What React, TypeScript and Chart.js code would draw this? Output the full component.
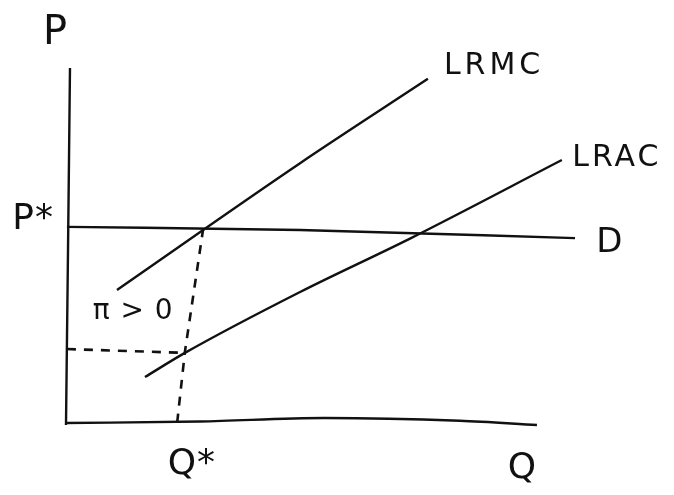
import React, { useEffect, useRef } from "react";
import { Chart, registerables } from "chart.js";

Chart.register(...registerables);

// Quantity (Q) and price (P) in arbitrary units; origin at the axes' corner.
const qAxisQ = [-0.2, 28.5, 55, 83.8, 100.2];
const qAxisP = [0.57, 1, 2, 1.2, 0];

const pAxisQ = [0, 0.43, 0.85];
const pAxisP = [0, 50, 102];

const demandQ = [0.2, 49.8, 108.3];
const demandP = [56.6, 55.7, 53.4];

const lrmcQ = [10.85, 49.8, 77];
const lrmcP = [38.6, 74.8, 98.9];

const lracQ = [16.8, 25.3, 49.8, 73.4, 105.5];
const lracP = [13.7, 20.6, 38, 53.4, 75.7];

// Dashed guides: from the LRMC = D point down through LRAC to Q*, and across to the price axis
const qStarGuideQ = [29.2, 25.3, 23.6];
const qStarGuideP = [56.2, 20.9, 0];

const acGuideQ = [0.2, 25.3];
const acGuideP = [21.7, 20.6];

// Text labels and where they sit (Q, P)
const labelText = ["P", "P*", "LRMC", "LRAC", "D", "π > 0", "Q*", "Q"];
const labelQ = [-2.34, -7.0, 80.4, 107.7, 115.6, 14.3, 26.8, 97];
const labelP = [111.7, 58.6, 102.6, 76.3, 52, 32.3, -11.4, -12.6];
const labelAlign: CanvasTextAlign[] = ["center", "center", "left", "left", "center", "center", "center", "center"];
const labelSize = [40, 36, 30, 30, 34, 28, 36, 36];
const labelSpacing = [0, 1, 4, 3, 0, 1, 1, 0];

const pts = (xs: number[], ys: number[]) => xs.map((x, i) => ({ x, y: ys[i] }));

const solid = (xs: number[], ys: number[]) => ({
  data: pts(xs, ys),
  showLine: true,
  borderColor: "#111",
  borderWidth: 2.4,
  pointRadius: 0,
  cubicInterpolationMode: "monotone",
  fill: false,
});

const dashed = (xs: number[], ys: number[]) => ({
  ...solid(xs, ys),
  cubicInterpolationMode: "default",
  tension: 0,
  borderDash: [9, 8],
  borderWidth: 2.6,
});

const labelPlugin = {
  id: "sketchLabels",
  afterDatasetsDraw(chart: any) {
    const { ctx, scales } = chart;
    ctx.save();
    ctx.fillStyle = "#111";
    ctx.textBaseline = "middle";
    labelText.forEach((t, i) => {
      ctx.font = `${labelSize[i]}px "DejaVu Sans"`;
      (ctx as any).letterSpacing = `${labelSpacing[i]}px`;
      ctx.textAlign = labelAlign[i];
      ctx.fillText(t, scales.x.getPixelForValue(labelQ[i]), scales.y.getPixelForValue(labelP[i]));
    });
    ctx.restore();
  },
};

export default function App() {
  const ref = useRef<HTMLCanvasElement>(null);

  useEffect(() => {
    if (!ref.current) return;
    const chart = new Chart(ref.current, {
      type: "scatter",
      data: {
        datasets: [
          solid(pAxisQ, pAxisP),
          solid(qAxisQ, qAxisP),
          solid(demandQ, demandP),
          solid(lrmcQ, lrmcP),
          solid(lracQ, lracP),
          dashed(qStarGuideQ, qStarGuideP),
          dashed(acGuideQ, acGuideP),
        ] as any,
      },
      options: {
        responsive: false,
        animation: false,
        layout: { padding: 0 },
        clip: false as any,
        scales: {
          x: { type: "linear", display: false, min: -14.04, max: 129.36 },
          y: { type: "linear", display: false, min: -20, max: 121.43 },
        },
        plugins: {
          legend: { display: false },
          tooltip: { enabled: false },
        },
      },
      plugins: [labelPlugin],
    });
    return () => chart.destroy();
  }, []);

  return (
    <div style={{ position: "fixed", left: 0, top: 0, width: 674, height: 495, background: "#fff" }}>
      <canvas ref={ref} width={674} height={495} />
    </div>
  );
}
